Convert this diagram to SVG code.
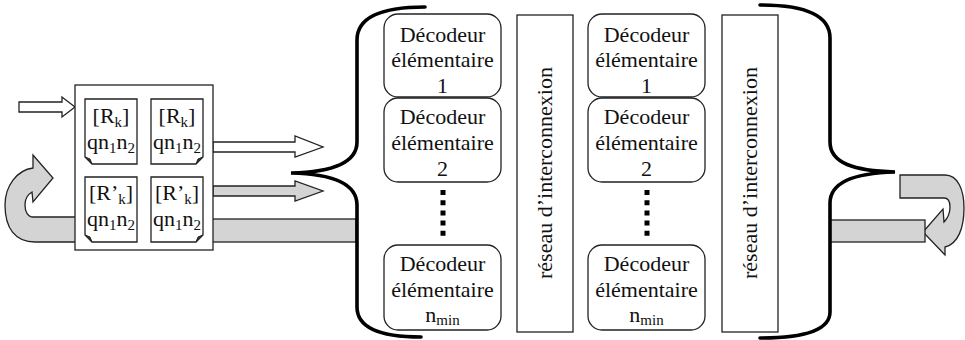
<svg xmlns="http://www.w3.org/2000/svg" width="965" height="340" viewBox="0 0 965 340" font-family="'Liberation Serif', 'Times New Roman', serif">
  <style>
    .t { font-family: "Liberation Serif", "Times New Roman", serif; font-size: 22px; fill: #111; text-anchor: middle; }
    .sub { font-size: 15px; }
    .box { fill: #fff; stroke: #222; stroke-width: 1.3; }
    .gray { fill: #d4d4d4; stroke: #222; stroke-width: 1.3; stroke-linejoin: miter; }
    .white { fill: #fff; stroke: #222; stroke-width: 1.3; }
    .brace { fill: none; stroke: #000; stroke-width: 3.6; stroke-linecap: round; }
    .dots { stroke: #000; stroke-width: 5; stroke-dasharray: 5 5.2; }
    .fold { fill: #333; stroke: #222; stroke-width: 1; }
  </style>

  <!-- connectors: feedback loops, bus bars and arrows -->
  <g id="connectors">
    <!-- left feedback loop feeding back into the buffer -->
    <path class="gray" d="M76,242 L35,242 C15,242 5,228 5,205 C5,186 17,170 33,168 L33,155 L53,178 L33,202 L32,192 C27,195 25,200 25,205 C25,212 28,217 33,217 L76,217 Z"/>
    <!-- bus from the buffer to the first decoder stage -->
    <rect class="gray" x="212" y="219" width="144" height="23"/>
    <!-- right feedback loop -->
    <path class="gray" d="M900,175 L945,175 C958,175 964,190 964,208 C964,228 958,244 945,247 L945,255 L923,232 L943,209 L944,222 C948,218 950,212 950,207 C950,202 948,198 944,198 L900,198 Z"/>
    <rect class="gray" x="830" y="220" width="95" height="22"/>
    <!-- input arrow -->
    <polygon class="white" points="19,102 62,102 62,97 75,107 62,117 62,112 19,112"/>
    <!-- outputs of the buffer -->
    <polygon class="white" points="213,142 295,142 295,136 323,147 295,157 295,152 213,152"/>
    <polygon class="gray" points="213,186 295,186 295,181 323,191 295,201 295,196 213,196"/>
    <!-- braces -->
    <path class="brace" d="M425,7 C388,7 357,14 357,40 L357,142 C357,163 333,172 291,173 C333,174 357,184 357,205 L357,307 C357,331 388,337 421,337"/>
    <path class="brace" d="M760,5 C797,5 830,12 830,38 L830,142 C830,163 854,171 895,172 C854,173 830,182 830,203 L830,312 C830,333 797,338 760,338"/>
  </g>

  <!-- buffer holding the four message sets -->
  <g id="buffer">
    <rect class="box" x="75" y="85" width="138" height="165"/>
    <g id="doc-rk-1">
      <path class="box" d="M85,99 H137 V164 H92 L85,157 Z"/>
      <path class="fold" d="M85,157 L90,159 L92,164 Z"/>
      <text class="t" x="111" y="123">[R<tspan class="sub" dy="4">k</tspan><tspan dy="-4">]</tspan></text>
      <text class="t" x="111" y="149">qn<tspan class="sub" dy="4">1</tspan><tspan dy="-4">n</tspan><tspan class="sub" dy="4">2</tspan></text>
    </g>
    <g id="doc-rk-2">
      <path class="box" d="M151,99 H203 V157 L196,164 H151 Z"/>
      <path class="fold" d="M203,157 L198,159 L196,164 Z"/>
      <text class="t" x="177" y="123">[R<tspan class="sub" dy="4">k</tspan><tspan dy="-4">]</tspan></text>
      <text class="t" x="177" y="149">qn<tspan class="sub" dy="4">1</tspan><tspan dy="-4">n</tspan><tspan class="sub" dy="4">2</tspan></text>
    </g>
    <g id="doc-r2k-1">
      <path class="box" d="M85,177 H137 V242 H92 L85,235 Z"/>
      <path class="fold" d="M85,235 L90,237 L92,242 Z"/>
      <text class="t" x="111" y="200">[R’<tspan class="sub" dy="4">k</tspan><tspan dy="-4">]</tspan></text>
      <text class="t" x="111" y="226">qn<tspan class="sub" dy="4">1</tspan><tspan dy="-4">n</tspan><tspan class="sub" dy="4">2</tspan></text>
    </g>
    <g id="doc-r2k-2">
      <path class="box" d="M151,177 H203 V235 L196,242 H151 Z"/>
      <path class="fold" d="M203,235 L198,237 L196,242 Z"/>
      <text class="t" x="177" y="200">[R’<tspan class="sub" dy="4">k</tspan><tspan dy="-4">]</tspan></text>
      <text class="t" x="177" y="226">qn<tspan class="sub" dy="4">1</tspan><tspan dy="-4">n</tspan><tspan class="sub" dy="4">2</tspan></text>
    </g>
  </g>

  <!-- first decoder column -->
  <g id="dec-a-1">
    <rect class="box" x="384" y="14" width="117" height="83" rx="14"/>
    <text class="t" x="442.5" y="42">Décodeur</text>
    <text class="t" x="442.5" y="67">élémentaire</text>
    <text class="t" x="442.5" y="93">1</text>
  </g>
  <g id="dec-a-2">
    <rect class="box" x="384" y="98" width="117" height="84" rx="14"/>
    <text class="t" x="442.5" y="124">Décodeur</text>
    <text class="t" x="442.5" y="150">élémentaire</text>
    <text class="t" x="442.5" y="176">2</text>
  </g>
  <line class="dots" x1="443" y1="190" x2="443" y2="240"/>
  <g id="dec-a-n">
    <rect class="box" x="384" y="245" width="117" height="85" rx="14"/>
    <text class="t" x="442.5" y="271">Décodeur</text>
    <text class="t" x="442.5" y="297">élémentaire</text>
    <text class="t" x="442.5" y="322">n<tspan class="sub" dy="3">min</tspan></text>
  </g>
  <g id="net-a">
    <rect class="box" x="517" y="15" width="56" height="317"/>
    <text class="t" transform="translate(552,173) rotate(-90)">réseau d’interconnexion</text>
  </g>

  <!-- second decoder column -->
  <g id="dec-b-1">
    <rect class="box" x="588" y="14" width="117" height="83" rx="14"/>
    <text class="t" x="646.5" y="42">Décodeur</text>
    <text class="t" x="646.5" y="67">élémentaire</text>
    <text class="t" x="646.5" y="93">1</text>
  </g>
  <g id="dec-b-2">
    <rect class="box" x="588" y="98" width="117" height="84" rx="14"/>
    <text class="t" x="646.5" y="124">Décodeur</text>
    <text class="t" x="646.5" y="150">élémentaire</text>
    <text class="t" x="646.5" y="176">2</text>
  </g>
  <line class="dots" x1="647" y1="190" x2="647" y2="240"/>
  <g id="dec-b-n">
    <rect class="box" x="588" y="245" width="117" height="85" rx="14"/>
    <text class="t" x="646.5" y="271">Décodeur</text>
    <text class="t" x="646.5" y="297">élémentaire</text>
    <text class="t" x="646.5" y="322">n<tspan class="sub" dy="3">min</tspan></text>
  </g>
  <g id="net-b">
    <rect class="box" x="722" y="15" width="56" height="317"/>
    <text class="t" transform="translate(757,173) rotate(-90)">réseau d’interconnexion</text>
  </g>
</svg>
